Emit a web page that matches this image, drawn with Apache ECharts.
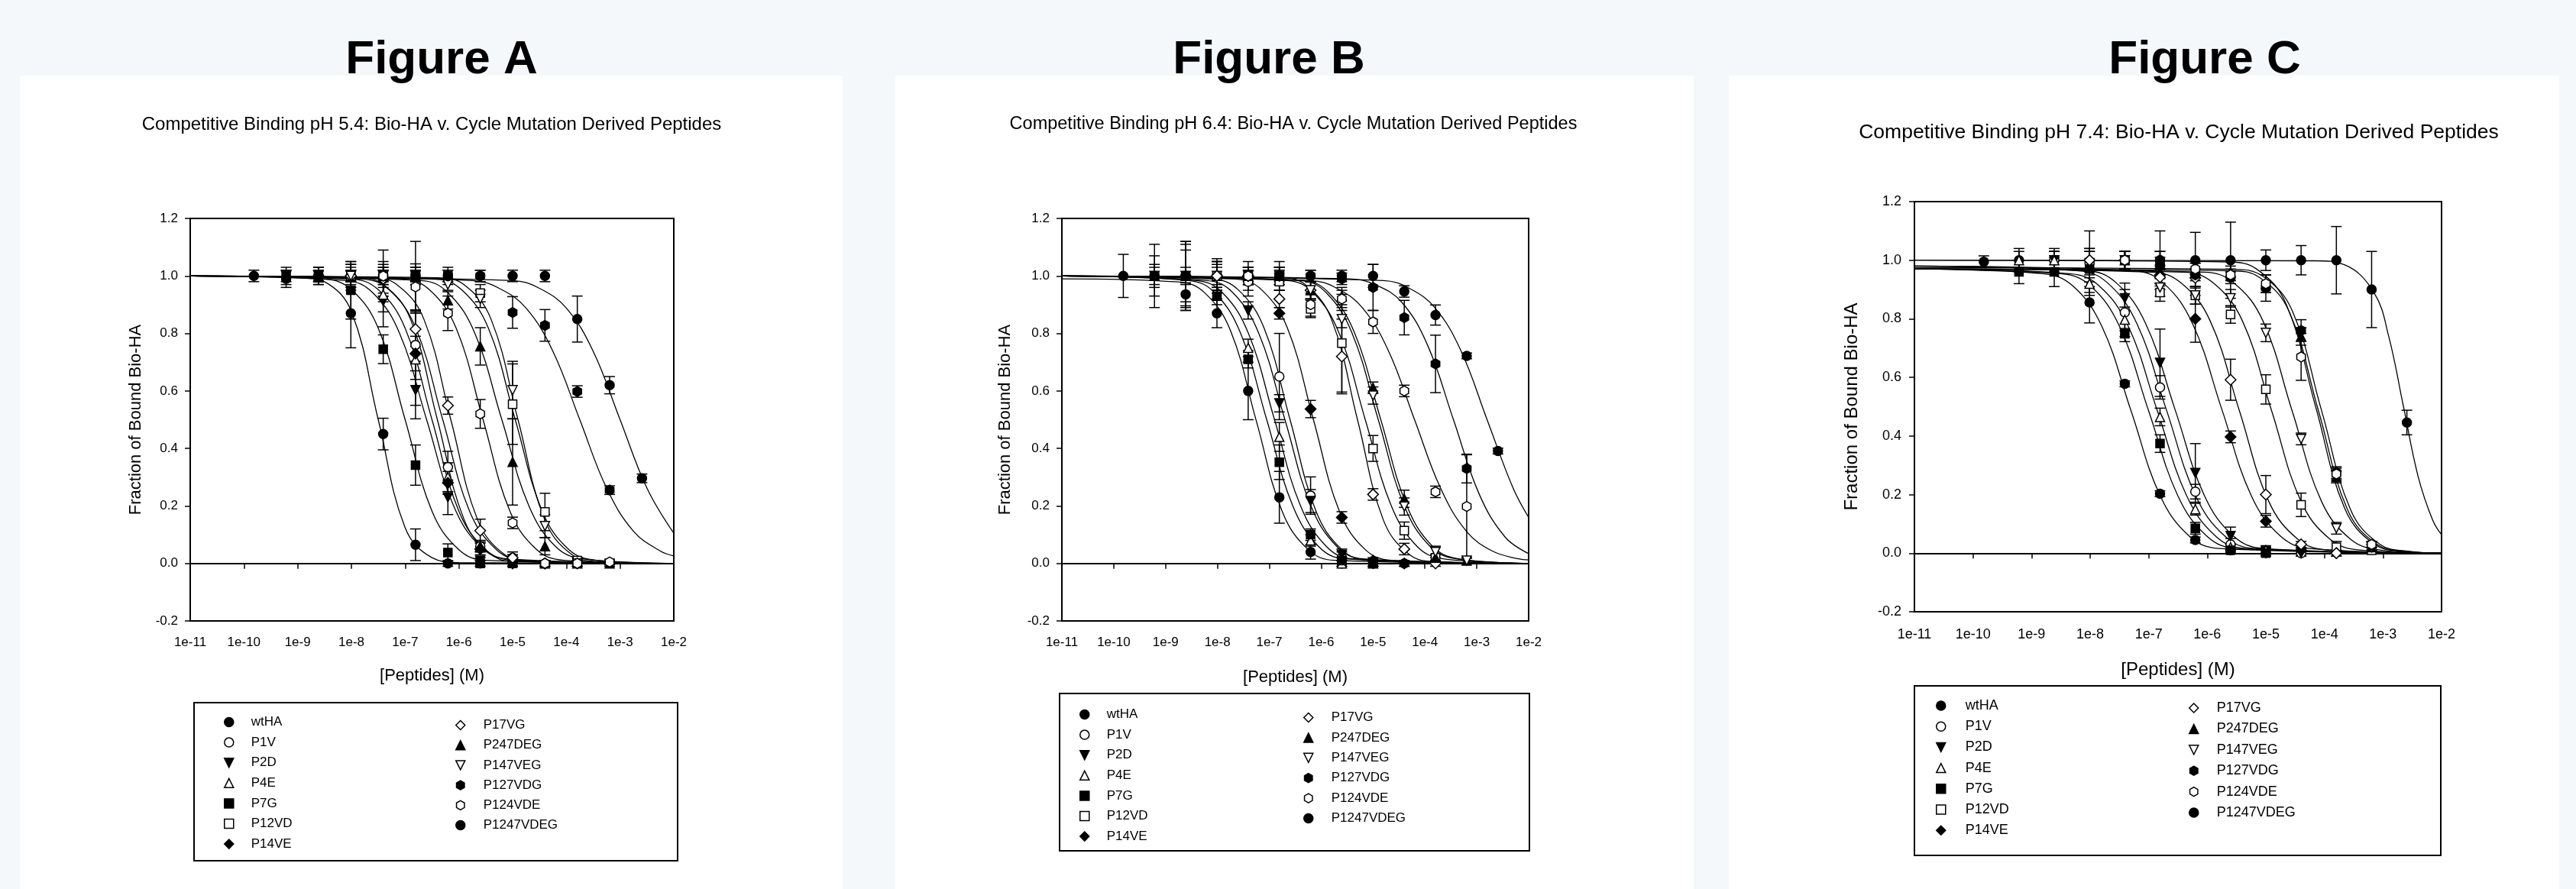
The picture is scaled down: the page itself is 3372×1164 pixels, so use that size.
<!DOCTYPE html>
<html><head><meta charset="utf-8">
<script src="https://cdn.jsdelivr.net/npm/echarts@6/dist/echarts.min.js"></script>
<style>html,body{margin:0;padding:0;background:#f4f8fa;}#c{width:3372px;height:1164px;}</style>
</head><body><div id="c"></div>
<script>
const _ = null;
// ---------------- shared data ----------------
const conc = [1.53e-10, 6.1e-10, 2.44e-9, 9.77e-9, 3.91e-8, 1.56e-7, 6.25e-7, 2.5e-6, 1e-5, 4e-5, 1.6e-4, 6.4e-4, 2.56e-3];
const xTickLabels = ['1e-11','1e-10','1e-9','1e-8','1e-7','1e-6','1e-5','1e-4','1e-3','1e-2'];
const yTickLabels = ['-0.2','0.0','0.2','0.4','0.6','0.8','1.0','1.2'];
const legendCol1 = ['wtHA','P1V','P2D','P4E','P7G','P12VD','P14VE'];
const legendCol2 = ['P17VG','P247DEG','P147VEG','P127VDG','P124VDE','P1247VDEG'];
const figureTitles = ['Figure A','Figure B','Figure C'];
const subTitles = ['Competitive Binding pH 5.4: Bio-HA v. Cycle Mutation Derived Peptides',
                   'Competitive Binding pH 6.4: Bio-HA v. Cycle Mutation Derived Peptides',
                   'Competitive Binding pH 7.4: Bio-HA v. Cycle Mutation Derived Peptides'];

// ---------------- Figure A (pH 5.4) ----------------
const A_wtHA = [1.00, 0.99, 1.00, 0.87, 0.45, 0.065, 0.00, 0.00, _, _, _, _, _];
const A_wtHA_sd = [0.02, 0.03, 0.03, 0.12, 0.055, 0.055, 0.01, 0.01, _, _, _, _, _];
const A_P1V = [_, _, 1.00, 1.00, 0.99, 0.76, 0.335, 0.06, 0.02, 0.00, _, _, _];
const A_P1V_sd = [_, _, 0.02, 0.04, 0.05, 0.12, 0.055, 0.02, 0.01, 0.01, _, _, _];
const A_P2D = [_, 1.00, 1.00, 1.00, 0.913, 0.603, 0.23, 0.01, 0.00, _, _, _, _];
const A_P2D_sd = [_, 0.03, 0.02, 0.05, 0.09, 0.10, 0.06, 0.01, 0.01, _, _, _, _];
const A_P4E = [_, _, 1.00, 1.00, 0.935, 0.71, 0.30, 0.06, 0.02, 0.00, _, _, _];
const A_P4E_sd = [_, _, 0.02, 0.04, 0.06, 0.16, 0.05, 0.02, 0.01, 0.01, _, _, _];
const A_P7G = [_, 1.00, 1.00, 0.95, 0.745, 0.342, 0.038, 0.00, 0.00, _, _, _, _];
const A_P7G_sd = [_, 0.02, 0.03, 0.10, 0.05, 0.07, 0.03, 0.01, 0.01, _, _, _, _];
const A_P12VD = [_, _, _, 1.00, 1.00, 1.00, 1.00, 0.94, 0.554, 0.179, 0.01, _, _];
const A_P12VD_sd = [_, _, _, 0.02, 0.03, 0.12, 0.02, 0.03, 0.14, 0.065, 0.01, _, _];
const A_P14VE = [_, _, 1.00, 1.00, 0.99, 0.73, 0.28, 0.05, 0.00, 0.00, _, _, _];
const A_P14VE_sd = [_, _, 0.02, 0.03, 0.06, 0.06, 0.04, 0.02, 0.01, 0.01, _, _, _];
const A_P17VG = [_, _, _, 1.00, 0.99, 0.815, 0.549, 0.114, 0.02, 0.00, 0.00, _, _];
const A_P17VG_sd = [_, _, _, 0.02, 0.03, 0.06, 0.03, 0.04, 0.02, 0.01, 0.01, _, _];
const A_P247DEG = [_, _, _, _, 1.00, 1.00, 0.915, 0.755, 0.353, 0.06, 0.00, 0.00, _];
const A_P247DEG_sd = [_, _, _, _, 0.03, 0.03, 0.03, 0.065, 0.15, 0.03, 0.01, 0.01, _];
const A_P147VEG = [_, _, _, 1.00, 1.00, 1.00, 0.97, 0.92, 0.603, 0.13, 0.00, _, _];
const A_P147VEG_sd = [_, _, _, 0.02, 0.09, 0.03, 0.02, 0.03, 0.10, 0.04, 0.01, _, _];
const A_P127VDG = [_, _, _, _, 1.00, 1.00, 1.00, 1.00, 0.873, 0.828, 0.598, 0.255, _];
const A_P127VDG_sd = [_, _, _, _, 0.02, 0.02, 0.02, 0.02, 0.055, 0.055, 0.02, 0.015, _];
const A_P124VDE = [_, _, _, _, 1.00, 0.962, 0.87, 0.52, 0.141, 0.00, 0.00, 0.005, _];
const A_P124VDE_sd = [_, _, _, _, 0.02, 0.08, 0.06, 0.05, 0.02, 0.01, 0.01, 0.01, _];
const A_P1247VDEG = [_, _, _, _, _, 1.00, 1.00, 1.00, 1.00, 1.00, 0.85, 0.62, 0.296];
const A_P1247VDEG_sd = [_, _, _, _, _, 0.02, 0.03, 0.02, 0.02, 0.02, 0.08, 0.03, 0.015];

const A_wtHA_fit = [[1e-11,1],[1e-9,0.997],[3.16e-9,0.98],[1e-8,0.876],[3.16e-8,0.5],[1e-7,0.124],[3.16e-7,0.02],[1e-6,0.003],[1e-2,0]];
const A_P1V_fit = [[1e-11,1],[1.26e-8,0.994],[3.98e-8,0.969],[1.26e-7,0.849],[3.98e-7,0.5],[1.26e-6,0.151],[3.98e-6,0.031],[1.26e-5,0.006],[1e-2,0]];
const A_P2D_fit = [[1e-11,1],[7.94e-9,0.984],[2.51e-8,0.941],[7.94e-8,0.799],[2.51e-7,0.5],[7.94e-7,0.201],[2.51e-6,0.059],[7.94e-6,0.016],[1e-2,0]];
const A_P4E_fit = [[1e-11,1],[1e-8,0.989],[3.16e-8,0.952],[1e-7,0.818],[3.16e-7,0.5],[1e-6,0.182],[3.16e-6,0.048],[1e-5,0.011],[1e-2,0]];
const A_P7G_fit = [[1e-11,1],[3.16e-9,0.989],[1e-8,0.952],[3.16e-8,0.818],[1e-7,0.5],[3.16e-7,0.182],[1e-6,0.048],[3.16e-6,0.011],[1e-2,0]];
const A_P12VD_fit = [[1e-11,1],[3.55e-7,0.989],[1.12e-6,0.952],[3.55e-6,0.818],[1.12e-5,0.5],[3.55e-5,0.182],[1.12e-4,0.048],[3.55e-4,0.011],[1e-2,0]];
const A_P14VE_fit = [[1e-11,1],[1.58e-8,0.989],[5.01e-8,0.952],[1.58e-7,0.818],[5.01e-7,0.5],[1.58e-6,0.182],[5.01e-6,0.048],[1.58e-5,0.011],[1e-2,0]];
const A_P17VG_fit = [[1e-11,1],[2.24e-8,0.994],[7.08e-8,0.969],[2.24e-7,0.849],[7.08e-7,0.5],[2.24e-6,0.151],[7.08e-6,0.031],[2.24e-5,0.006],[1e-2,0]];
const A_P247DEG_fit = [[1e-11,1],[2e-7,0.984],[6.31e-7,0.941],[2e-6,0.799],[6.31e-6,0.5],[2e-5,0.201],[6.31e-5,0.059],[2e-4,0.016],[1e-2,0]];
const A_P147VEG_fit = [[1e-11,1],[3.98e-7,0.994],[1.26e-6,0.969],[3.98e-6,0.849],[1.26e-5,0.5],[3.98e-5,0.151],[1.26e-4,0.031],[3.98e-4,0.006],[1e-2,0]];
const A_P127VDG_fit = [[1e-11,1],[1.78e-6,0.984],[5.62e-6,0.957],[1.78e-5,0.888],[5.62e-5,0.738],[1.78e-4,0.5],[5.62e-4,0.262],[1.78e-3,0.112],[5.62e-3,0.043],[1e-2,0.026]];
const A_P124VDE_fit = [[1e-11,1],[8.91e-8,0.989],[2.82e-7,0.952],[8.91e-7,0.818],[2.82e-6,0.5],[8.91e-6,0.182],[2.82e-5,0.048],[8.91e-5,0.011],[1e-2,0]];
const A_P1247VDEG_fit = [[1e-11,1],[1e-5,0.984],[3.16e-5,0.957],[1e-4,0.888],[3.16e-4,0.738],[1e-3,0.5],[3.16e-3,0.262],[1e-2,0.105]];

// ---------------- Figure B (pH 6.4) ----------------
const B_wtHA = [1.00, 1.00, 0.936, 0.87, 0.60, 0.23, 0.04, 0.00, _, _, _, _, _];
const B_wtHA_sd = [0.075, 0.03, 0.04, 0.05, 0.10, 0.09, 0.025, 0.01, _, _, _, _, _];
const B_P1V = [_, _, 1.00, 1.00, 0.98, 0.65, 0.236, 0.02, 0.00, 0.00, _, _, _];
const B_P1V_sd = [_, _, 0.12, 0.05, 0.05, 0.15, 0.065, 0.02, 0.01, 0.01, _, _, _];
const B_P2D = [_, 1.00, 1.00, 1.00, 0.88, 0.557, 0.217, 0.03, 0.00, _, _, _, _];
const B_P2D_sd = [_, 0.07, 0.09, 0.05, 0.03, 0.03, 0.04, 0.02, 0.01, _, _, _, _];
const B_P4E = [_, 1.00, 1.00, 1.00, 0.75, 0.44, 0.08, 0.00, 0.00, _, _, _, _];
const B_P4E_sd = [_, 0.11, 0.11, 0.04, 0.03, 0.05, 0.02, 0.01, 0.01, _, _, _, _];
const B_P7G = [_, 1.00, 1.00, 0.93, 0.71, 0.352, 0.10, 0.01, 0.00, _, _, _, _];
const B_P7G_sd = [_, 0.04, 0.03, 0.03, 0.03, 0.06, 0.02, 0.01, 0.01, _, _, _, _];
const B_P12VD = [_, _, _, 1.00, 1.00, 0.98, 0.885, 0.766, 0.40, 0.114, 0.02, _, _];
const B_P12VD_sd = [_, _, _, 0.06, 0.05, 0.03, 0.03, 0.17, 0.045, 0.03, 0.01, _, _];
const B_P14VE = [_, _, 1.00, 1.00, 1.00, 0.87, 0.537, 0.16, 0.01, 0.00, _, _, _];
const B_P14VE_sd = [_, _, 0.12, 0.05, 0.03, 0.02, 0.03, 0.02, 0.01, 0.01, _, _, _];
const B_P17VG = [_, _, _, 1.00, 1.00, 0.92, 0.95, 0.72, 0.24, 0.05, 0.00, _, _];
const B_P17VG_sd = [_, _, _, 0.03, 0.03, 0.03, 0.03, 0.13, 0.02, 0.02, 0.01, _, _];
const B_P247DEG = [_, _, _, _, 1.00, 1.00, 0.95, 0.93, 0.611, 0.225, 0.02, 0.01, _];
const B_P247DEG_sd = [_, _, _, _, 0.03, 0.03, 0.03, 0.03, 0.02, 0.03, 0.01, 0.01, _];
const B_P147VEG = [_, _, _, _, 1.00, 1.00, 0.95, 0.85, 0.584, 0.198, 0.04, 0.01, _];
const B_P147VEG_sd = [_, _, _, _, 0.02, 0.03, 0.03, 0.03, 0.03, 0.03, 0.02, 0.01, _];
const B_P127VDG = [_, _, _, _, 1.00, 1.00, 1.00, 0.99, 0.96, 0.855, 0.694, 0.33, _];
const B_P127VDG_sd = [_, _, _, _, 0.02, 0.02, 0.02, 0.02, 0.08, 0.06, 0.10, 0.05, _];
const B_P124VDE = [_, _, _, _, 1.00, 1.00, 0.90, 0.92, 0.84, 0.60, 0.249, 0.198, _];
const B_P124VDE_sd = [_, _, _, _, 0.03, 0.03, 0.04, 0.03, 0.04, 0.02, 0.02, 0.18, _];
const B_P1247VDEG = [_, _, _, _, _, 1.00, 1.00, 1.00, 1.00, 0.946, 0.864, 0.722, 0.391];
const B_P1247VDEG_sd = [_, _, _, _, _, 0.05, 0.02, 0.02, 0.04, 0.02, 0.035, 0.01, 0.01];

const B_wtHA_fit = [[1e-11,0.99],[1.78e-9,0.979],[5.62e-9,0.942],[1.78e-8,0.81],[5.62e-8,0.495],[1.78e-7,0.18],[5.62e-7,0.048],[1.78e-6,0.011],[1e-2,0]];
const B_P1V_fit = [[1e-11,1],[7.94e-9,0.989],[2.51e-8,0.952],[7.94e-8,0.818],[2.51e-7,0.5],[7.94e-7,0.182],[2.51e-6,0.048],[7.94e-6,0.011],[1e-2,0]];
const B_P2D_fit = [[1e-11,1],[6.31e-9,0.984],[2e-8,0.941],[6.31e-8,0.799],[2e-7,0.5],[6.31e-7,0.201],[2e-6,0.059],[6.31e-6,0.016],[1e-2,0]];
const B_P4E_fit = [[1e-11,1],[3.98e-9,0.984],[1.26e-8,0.941],[3.98e-8,0.799],[1.26e-7,0.5],[3.98e-7,0.201],[1.26e-6,0.059],[3.98e-6,0.016],[1e-2,0]];
const B_P7G_fit = [[1e-11,1],[2.82e-9,0.984],[8.91e-9,0.941],[2.82e-8,0.799],[8.91e-8,0.5],[2.82e-7,0.201],[8.91e-7,0.059],[2.82e-6,0.016],[1e-2,0]];
const B_P12VD_fit = [[1e-11,1],[2.24e-7,0.984],[7.08e-7,0.941],[2.24e-6,0.799],[7.08e-6,0.5],[2.24e-5,0.201],[7.08e-5,0.059],[2.24e-4,0.016],[1e-2,0]];
const B_P14VE_fit = [[1e-11,1],[2.24e-8,0.989],[7.08e-8,0.952],[2.24e-7,0.818],[7.08e-7,0.5],[2.24e-6,0.182],[7.08e-6,0.048],[2.24e-5,0.011],[1e-2,0]];
const B_P17VG_fit = [[1e-11,1],[1.58e-7,0.994],[5.01e-7,0.969],[1.58e-6,0.849],[5.01e-6,0.5],[1.58e-5,0.151],[5.01e-5,0.031],[1.58e-4,0.006],[1e-2,0]];
const B_P247DEG_fit = [[1e-11,1],[4.47e-7,0.984],[1.41e-6,0.941],[4.47e-6,0.799],[1.41e-5,0.5],[4.47e-5,0.201],[1.41e-4,0.059],[4.47e-4,0.016],[1e-2,0]];
const B_P147VEG_fit = [[1e-11,1],[3.98e-7,0.984],[1.26e-6,0.941],[3.98e-6,0.799],[1.26e-5,0.5],[3.98e-5,0.201],[1.26e-4,0.059],[3.98e-4,0.016],[1e-2,0]];
const B_P127VDG_fit = [[1e-11,1],[3.55e-6,0.99],[1.12e-5,0.969],[3.55e-5,0.909],[1.12e-4,0.76],[3.55e-4,0.5],[1.12e-3,0.24],[3.55e-3,0.091],[1e-2,0.034]];
const B_P124VDE_fit = [[1e-11,1],[6.31e-7,0.984],[2e-6,0.957],[6.31e-6,0.888],[2e-5,0.738],[6.31e-5,0.5],[2e-4,0.262],[6.31e-4,0.112],[2e-3,0.043],[6.31e-3,0.016],[1e-2,0.012]];
const B_P1247VDEG_fit = [[1e-11,1],[1.58e-5,0.984],[5.01e-5,0.957],[1.58e-4,0.888],[5.01e-4,0.738],[1.58e-3,0.5],[5.01e-3,0.262],[1e-2,0.16]];

// ---------------- Figure C (pH 7.4) ----------------
const C_wtHA = [0.995, 1.00, 1.00, 0.856, 0.578, 0.203, 0.045, 0.01, _, _, _, _, _];
const C_wtHA_sd = [0.02, 0.03, 0.03, 0.07, 0.01, 0.01, 0.01, 0.01, _, _, _, _, _];
const C_P1V = [_, _, 1.00, 0.99, 0.822, 0.566, 0.21, 0.03, 0.01, 0.00, _, _, _];
const C_P1V_sd = [_, _, 0.03, 0.05, 0.10, 0.04, 0.025, 0.02, 0.01, 0.01, _, _, _];
const C_P2D = [_, _, 1.00, 0.99, 0.87, 0.65, 0.274, 0.059, 0.01, 0.00, _, _, _];
const C_P2D_sd = [_, _, 0.03, 0.11, 0.03, 0.115, 0.10, 0.03, 0.01, 0.01, _, _, _];
const C_P4E = [_, 1.00, 1.00, 0.92, 0.797, 0.465, 0.15, 0.02, 0.01, _, _, _, _];
const C_P4E_sd = [_, 0.04, 0.04, 0.03, 0.03, 0.03, 0.02, 0.01, 0.01, _, _, _, _];
const C_P7G = [_, 0.96, 0.96, 0.97, 0.749, 0.374, 0.085, 0.01, 0.00, _, _, _, _];
const C_P7G_sd = [_, 0.04, 0.05, 0.06, 0.01, 0.03, 0.02, 0.01, 0.01, _, _, _, _];
const C_P12VD = [_, _, _, _, 1.00, 0.89, 0.88, 0.815, 0.559, 0.165, 0.02, 0.01, _];
const C_P12VD_sd = [_, _, _, _, 0.03, 0.03, 0.03, 0.03, 0.05, 0.04, 0.02, 0.01, _];
const C_P14VE = [_, _, _, 1.00, 1.00, 0.95, 0.80, 0.397, 0.109, 0.01, 0.00, _, _];
const C_P14VE_sd = [_, _, _, 0.04, 0.03, 0.03, 0.08, 0.02, 0.02, 0.01, 0.01, _, _];
const C_P17VG = [_, _, _, 1.00, 1.00, 0.942, 0.94, 0.592, 0.20, 0.03, 0.00, _, _];
const C_P17VG_sd = [_, _, _, 0.03, 0.03, 0.03, 0.03, 0.07, 0.065, 0.01, 0.01, _, _];
const C_P247DEG = [_, _, _, _, 1.00, 1.00, 0.97, 0.96, 0.92, 0.74, 0.26, 0.02, _];
const C_P247DEG_sd = [_, _, _, _, 0.03, 0.03, 0.02, 0.02, 0.03, 0.03, 0.02, 0.01, _];
const C_P147VEG = [_, _, _, _, 1.00, 0.907, 0.88, 0.87, 0.752, 0.39, 0.085, 0.02, _];
const C_P147VEG_sd = [_, _, _, _, 0.03, 0.03, 0.03, 0.03, 0.03, 0.02, 0.02, 0.01, _];
const C_P127VDG = [_, _, _, _, 1.00, 0.98, 0.95, 0.94, 0.905, 0.76, 0.275, 0.03, _];
const C_P127VDG_sd = [_, _, _, _, 0.03, 0.03, 0.02, 0.02, 0.045, 0.037, 0.02, 0.01, _];
const C_P124VDE = [_, _, _, _, 1.00, 1.00, 0.97, 0.95, 0.92, 0.67, 0.27, 0.03, _];
const C_P124VDE_sd = [_, _, _, _, 0.03, 0.03, 0.02, 0.02, 0.03, 0.08, 0.02, 0.01, _];
const C_P1247VDEG = [_, _, _, _, _, 1.00, 1.00, 1.00, 1.00, 1.00, 1.00, 0.90, 0.446];
const C_P1247VDEG_sd = [_, _, _, _, _, 0.10, 0.095, 0.13, 0.035, 0.05, 0.115, 0.13, 0.042];

const C_wtHA_fit = [[1e-11,0.97],[1.58e-9,0.954],[5.01e-9,0.913],[1.58e-8,0.775],[5.01e-8,0.485],[1.58e-7,0.195],[5.01e-7,0.057],[1.58e-6,0.016],[1e-2,0]];
const C_P1V_fit = [[1e-11,0.98],[6.31e-9,0.964],[2e-8,0.922],[6.31e-8,0.783],[2e-7,0.49],[6.31e-7,0.197],[2e-6,0.058],[6.31e-6,0.016],[1e-2,0]];
const C_P2D_fit = [[1e-11,0.98],[8.91e-9,0.964],[2.82e-8,0.922],[8.91e-8,0.783],[2.82e-7,0.49],[8.91e-7,0.197],[2.82e-6,0.058],[8.91e-6,0.016],[1e-2,0]];
const C_P4E_fit = [[1e-11,0.97],[4.47e-9,0.954],[1.41e-8,0.913],[4.47e-8,0.775],[1.41e-7,0.485],[4.47e-7,0.195],[1.41e-6,0.057],[4.47e-6,0.016],[1e-2,0]];
const C_P7G_fit = [[1e-11,0.97],[3.16e-9,0.954],[1e-8,0.913],[3.16e-8,0.775],[1e-7,0.485],[3.16e-7,0.195],[1e-6,0.057],[3.16e-6,0.016],[1e-2,0]];
const C_P12VD_fit = [[1e-11,0.97],[3.98e-7,0.959],[1.26e-6,0.923],[3.98e-6,0.793],[1.26e-5,0.485],[3.98e-5,0.177],[1.26e-4,0.047],[3.98e-4,0.011],[1e-2,0]];
const C_P14VE_fit = [[1e-11,0.98],[5.62e-8,0.964],[1.78e-7,0.922],[5.62e-7,0.783],[1.78e-6,0.49],[5.62e-6,0.197],[1.78e-5,0.058],[5.62e-5,0.016],[1e-2,0]];
const C_P17VG_fit = [[1e-11,0.97],[1.12e-7,0.959],[3.55e-7,0.923],[1.12e-6,0.793],[3.55e-6,0.485],[1.12e-5,0.177],[3.55e-5,0.047],[1.12e-4,0.011],[1e-2,0]];
const C_P247DEG_fit = [[1e-11,0.97],[2.51e-6,0.964],[7.94e-6,0.94],[2.51e-5,0.824],[7.94e-5,0.485],[2.51e-4,0.146],[7.94e-4,0.03],[2.51e-3,0.006],[1e-2,0]];
const C_P147VEG_fit = [[1e-11,0.97],[8.91e-7,0.959],[2.82e-6,0.923],[8.91e-6,0.793],[2.82e-5,0.485],[8.91e-5,0.177],[2.82e-4,0.047],[8.91e-4,0.011],[1e-2,0]];
const C_P127VDG_fit = [[1e-11,0.975],[2.82e-6,0.969],[8.91e-6,0.945],[2.82e-5,0.828],[8.91e-5,0.488],[2.82e-4,0.147],[8.91e-4,0.03],[2.82e-3,0.006],[1e-2,0]];
const C_P124VDE_fit = [[1e-11,1],[2.24e-6,0.994],[7.08e-6,0.969],[2.24e-5,0.849],[7.08e-5,0.5],[2.24e-4,0.151],[7.08e-4,0.031],[2.24e-3,0.006],[1e-2,0]];
const C_P1247VDEG_fit = [[1e-11,1],[7.08e-5,0.998],[2.24e-4,0.984],[7.08e-4,0.888],[1.26e-3,0.738],[2.24e-3,0.5],[3.98e-3,0.262],[7.08e-3,0.112],[1e-2,0.063]];

// ---------------- assembly ----------------
const panelData = [
  {wtHA:[A_wtHA,A_wtHA_sd,A_wtHA_fit], P1V:[A_P1V,A_P1V_sd,A_P1V_fit], P2D:[A_P2D,A_P2D_sd,A_P2D_fit], P4E:[A_P4E,A_P4E_sd,A_P4E_fit],
   P7G:[A_P7G,A_P7G_sd,A_P7G_fit], P12VD:[A_P12VD,A_P12VD_sd,A_P12VD_fit], P14VE:[A_P14VE,A_P14VE_sd,A_P14VE_fit],
   P17VG:[A_P17VG,A_P17VG_sd,A_P17VG_fit], P247DEG:[A_P247DEG,A_P247DEG_sd,A_P247DEG_fit], P147VEG:[A_P147VEG,A_P147VEG_sd,A_P147VEG_fit],
   P127VDG:[A_P127VDG,A_P127VDG_sd,A_P127VDG_fit], P124VDE:[A_P124VDE,A_P124VDE_sd,A_P124VDE_fit], P1247VDEG:[A_P1247VDEG,A_P1247VDEG_sd,A_P1247VDEG_fit]},
  {wtHA:[B_wtHA,B_wtHA_sd,B_wtHA_fit], P1V:[B_P1V,B_P1V_sd,B_P1V_fit], P2D:[B_P2D,B_P2D_sd,B_P2D_fit], P4E:[B_P4E,B_P4E_sd,B_P4E_fit],
   P7G:[B_P7G,B_P7G_sd,B_P7G_fit], P12VD:[B_P12VD,B_P12VD_sd,B_P12VD_fit], P14VE:[B_P14VE,B_P14VE_sd,B_P14VE_fit],
   P17VG:[B_P17VG,B_P17VG_sd,B_P17VG_fit], P247DEG:[B_P247DEG,B_P247DEG_sd,B_P247DEG_fit], P147VEG:[B_P147VEG,B_P147VEG_sd,B_P147VEG_fit],
   P127VDG:[B_P127VDG,B_P127VDG_sd,B_P127VDG_fit], P124VDE:[B_P124VDE,B_P124VDE_sd,B_P124VDE_fit], P1247VDEG:[B_P1247VDEG,B_P1247VDEG_sd,B_P1247VDEG_fit]},
  {wtHA:[C_wtHA,C_wtHA_sd,C_wtHA_fit], P1V:[C_P1V,C_P1V_sd,C_P1V_fit], P2D:[C_P2D,C_P2D_sd,C_P2D_fit], P4E:[C_P4E,C_P4E_sd,C_P4E_fit],
   P7G:[C_P7G,C_P7G_sd,C_P7G_fit], P12VD:[C_P12VD,C_P12VD_sd,C_P12VD_fit], P14VE:[C_P14VE,C_P14VE_sd,C_P14VE_fit],
   P17VG:[C_P17VG,C_P17VG_sd,C_P17VG_fit], P247DEG:[C_P247DEG,C_P247DEG_sd,C_P247DEG_fit], P147VEG:[C_P147VEG,C_P147VEG_sd,C_P147VEG_fit],
   P127VDG:[C_P127VDG,C_P127VDG_sd,C_P127VDG_fit], P124VDE:[C_P124VDE,C_P124VDE_sd,C_P124VDE_fit], P1247VDEG:[C_P1247VDEG,C_P1247VDEG_sd,C_P1247VDEG_fit]}
];

const HEX = 'path://M0,-10L8.66,-5L8.66,5L0,10L-8.66,5L-8.66,-5Z';
const DOWN = 'path://M-10,-10L10,-10L0,10Z';
const markStyle = {
  wtHA:{symbol:'circle',fill:true,size:12}, P1V:{symbol:'circle',fill:false,size:12},
  P2D:{symbol:DOWN,fill:true,size:12}, P4E:{symbol:'triangle',fill:false,size:12},
  P7G:{symbol:'rect',fill:true,size:11}, P12VD:{symbol:'rect',fill:false,size:11},
  P14VE:{symbol:'diamond',fill:true,size:14}, P17VG:{symbol:'diamond',fill:false,size:14},
  P247DEG:{symbol:'triangle',fill:true,size:12}, P147VEG:{symbol:DOWN,fill:false,size:12},
  P127VDG:{symbol:HEX,fill:true,size:13}, P124VDE:{symbol:HEX,fill:false,size:13},
  P1247VDEG:{symbol:'circle',fill:true,size:12}
};

const FONT = '"Liberation Sans", Arial, Helvetica, sans-serif';
const layout = [
  {grid:{left:249,top:286,width:633,height:527}, tick:17, nameFont:22, yGap:60, xGap:61, xMargin:20, yMargin:16,
   fig:{x:578,y:48}, sub:{x:565,y:151,size:24}, box:[254,920,633,207], legFont:17,
   l1:{left:293,top:937,gap:9.6,pad:18}, l2:{left:596,top:941,gap:9.2,pad:19}},
  {grid:{left:1390,top:286,width:611,height:527}, tick:17, nameFont:22, yGap:63, xGap:63, xMargin:20, yMargin:16,
   fig:{x:1661,y:48}, sub:{x:1693,y:151,size:23.5}, box:[1387,908,615,206], legFont:17,
   l1:{left:1413,top:927,gap:9.6,pad:18}, l2:{left:1706,top:931,gap:9.4,pad:19}},
  {grid:{left:2506,top:264,width:690,height:537}, tick:18, nameFont:24, yGap:70, xGap:64, xMargin:21, yMargin:17,
   fig:{x:2886,y:48}, sub:{x:2852,y:160,size:26.5}, box:[2506,898,689,222], legFont:18,
   l1:{left:2534,top:915,gap:9.2,pad:21}, l2:{left:2865,top:918,gap:9.4,pad:19}}
];
const panelRects = [[26,99,1077,1065],[1172,99,1045,1065],[2263,99,1087,1065]];

const titles = [], grids = [], xAxes = [], yAxes = [], series = [], legends = [], graphics = [];
panelRects.forEach(r => graphics.push({type:'rect', silent:true, z:-10, shape:{x:r[0],y:r[1],width:r[2],height:r[3]}, style:{fill:'#ffffff'}}));

function errRender(params, api) {
  const x = api.value(0), lo = api.value(1), hi = api.value(2);
  const a = api.coord([x, lo]), b = api.coord([x, hi]);
  const hw = 7, st = {stroke:'#000', lineWidth:1.5};
  return {type:'group', children:[
    {type:'line', shape:{x1:a[0],y1:a[1],x2:b[0],y2:b[1]}, style:st},
    {type:'line', shape:{x1:a[0]-hw,y1:a[1],x2:a[0]+hw,y2:a[1]}, style:st},
    {type:'line', shape:{x1:b[0]-hw,y1:b[1],x2:b[0]+hw,y2:b[1]}, style:st}
  ]};
}

function legendItems(names) {
  return names.map(n => {
    const s = markStyle[n];
    return {name:n, icon:s.symbol, itemStyle:{color:s.fill?'#000':'#fff', borderColor:'#000', borderWidth:1.5}};
  });
}

layout.forEach((L, p) => {
  titles.push({text:figureTitles[p], left:L.fig.x, top:L.fig.y, textAlign:'center', padding:0,
    textStyle:{fontSize:62, fontWeight:'bold', color:'#000', fontFamily:FONT}});
  titles.push({text:subTitles[p], left:L.sub.x, top:L.sub.y, textAlign:'center', padding:0,
    textStyle:{fontSize:L.sub.size, fontWeight:'normal', color:'#000', fontFamily:FONT}});
  grids.push(Object.assign({show:true, borderColor:'#000', borderWidth:2, backgroundColor:'transparent', containLabel:false}, L.grid));
  xAxes.push({type:'log', logBase:10, gridIndex:p, min:1e-11, max:1e-2, interval:1, splitNumber:9,
    name:'[Peptides] (M)', nameLocation:'middle', nameGap:L.xGap,
    nameTextStyle:{fontSize:L.nameFont, color:'#000', fontFamily:FONT},
    axisLine:{show:true, lineStyle:{color:'#000', width:2}},
    axisTick:{show:true, inside:false, length:7, lineStyle:{color:'#000', width:1.5}},
    minorTick:{show:false}, splitLine:{show:false},
    axisLabel:{show:true, color:'#000', fontSize:L.tick, fontFamily:FONT, margin:L.xMargin, showMinLabel:true, showMaxLabel:true, hideOverlap:false,
      formatter: v => xTickLabels[Math.round(Math.log10(v)) + 11] || ''}});
  yAxes.push({type:'value', gridIndex:p, min:-0.2, max:1.2, interval:0.2,
    name:'Fraction of Bound Bio-HA', nameLocation:'middle', nameRotate:90, nameGap:L.yGap,
    nameTextStyle:{fontSize:L.nameFont, color:'#000', fontFamily:FONT},
    axisLine:{show:true, lineStyle:{color:'#000', width:2}},
    axisTick:{show:true, inside:false, length:7, lineStyle:{color:'#000', width:1.5}},
    splitLine:{show:false},
    axisLabel:{color:'#000', fontSize:L.tick, fontFamily:FONT, margin:L.yMargin, showMinLabel:true, showMaxLabel:true,
      formatter: v => yTickLabels[Math.round((v + 0.2) / 0.2)]}});

  const pd = panelData[p];
  const errData = [];
  Object.keys(pd).forEach(name => {
    const [vals, sd, fit] = pd[name];
    series.push({type:'line', name:'fit-'+p+'-'+name, xAxisIndex:p, yAxisIndex:p, data:fit, smooth:0.4,
      showSymbol:false, symbol:'none', silent:true, z:2, lineStyle:{color:'#000', width:1.3}});
    conc.forEach((x, i) => { if (vals[i] != null) errData.push([x, vals[i] - sd[i], vals[i] + sd[i]]); });
  });
  series.push({type:'custom', name:'err-'+p, xAxisIndex:p, yAxisIndex:p, renderItem:errRender, data:errData, z:3, silent:true,
    encode:{x:0, y:[1,2]}});
  Object.keys(pd).forEach(name => {
    const vals = pd[name][0];
    const s = markStyle[name];
    const pts = [];
    conc.forEach((x, i) => { if (vals[i] != null) pts.push([x, vals[i]]); });
    series.push({type:'scatter', name:name, xAxisIndex:p, yAxisIndex:p, data:pts, symbol:s.symbol, symbolSize:s.size,
      symbolKeepAspect:true, z:4,
      itemStyle:{color:s.fill?'#000':'#fff', borderColor:'#000', borderWidth:1.5, opacity:1}});
  });

  const mkLeg = (cfg, names) => ({orient:'vertical', left:cfg.left, top:cfg.top, padding:0, itemGap:cfg.gap,
    itemWidth:12, itemHeight:12, selectedMode:false, data:legendItems(names),
    textStyle:{fontSize:L.legFont, color:'#000', fontFamily:FONT, padding:[0,0,0,cfg.pad]}});
  legends.push(mkLeg(L.l1, legendCol1));
  legends.push(mkLeg(L.l2, legendCol2));
  graphics.push({type:'rect', silent:true, z:100, shape:{x:L.box[0], y:L.box[1], width:L.box[2], height:L.box[3]},
    style:{fill:'none', stroke:'#000', lineWidth:2}});
});

const chart = echarts.init(document.getElementById('c'), null, {renderer:'canvas'});
chart.setOption({
  backgroundColor:'#f4f8fa', animation:false,
  title:titles, grid:grids, xAxis:xAxes, yAxis:yAxes, legend:legends, series:series,
  graphic:{elements:graphics}
});
</script></body></html>
